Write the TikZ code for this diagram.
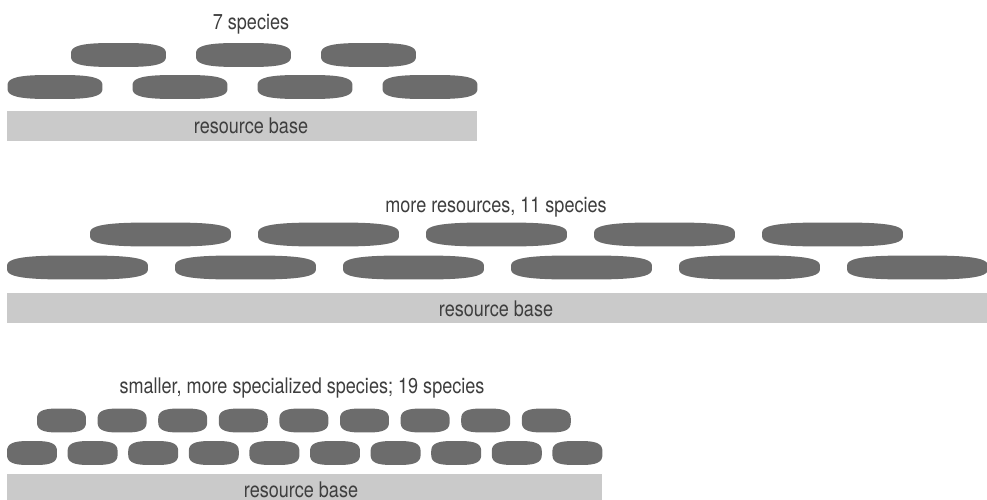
\documentclass[tikz,border=0pt]{standalone}
\usepackage{fontspec}
\setmainfont{TeX Gyre Heros}[FakeStretch=0.84]
\usetikzlibrary{positioning}
\definecolor{discgray}{RGB}{108,108,108}
\definecolor{basegray}{RGB}{202,202,202}
\definecolor{labgray}{RGB}{62,62,62}

\begin{document}
\begin{tikzpicture}[x=1pt, y=-1pt,
      disc/.style={inner sep=0pt, minimum height=24pt, minimum width=#1,
          path picture={\fill[discgray, shift={(path picture bounding box.center)}]
              plot[domain=2.5:362.5, samples=73, variable=\t]
              ({0.5*#1*sign(cos(\t))*abs(cos(\t))^0.625},
               {12*sign(sin(\t))*abs(sin(\t))^0.625}) -- cycle;}},
      resbar/.style={fill=basegray, inner sep=0pt, minimum width=#1},
      lab/.style={font=\fontsize{21.5}{24}\selectfont, text=labgray,
          anchor=base, inner sep=0pt},
    ]
    \useasboundingbox (0,0) rectangle (987,500);

    % ---- Panel 1: 7 species ----
    \node[lab] (T1) at (251, 30) {7 species};
    \foreach \i in {0,...,2}{
        \node[disc=95pt] (Au\i) at ({118.5+125*\i}, 55) {};
      }
    \foreach \i in {0,...,3}{
        \node[disc=95pt] (Al\i) at ({55+125*\i}, 87) {};
      }
    \node[resbar=470pt, minimum height=30pt] (R1) at (242, 126) {};
    \node[lab] (B1) at (251, 134) {resource base};

    % ---- Panel 2: more resources, 11 species ----
    \node[lab] (T2) at (496, 212) {more resources, 11 species};
    \foreach \i in {0,...,4}{
        \node[disc=141pt] (Bu\i) at ({160.5+168*\i}, 234.5) {};
      }
    \foreach \i in {0,...,5}{
        \node[disc=141pt] (Bl\i) at ({77.5+168*\i}, 267.5) {};
      }
    \node[resbar=980pt, minimum height=30pt] (R2) at (497, 308) {};
    \node[lab] (B2) at (496, 316) {resource base};

    % ---- Panel 3: smaller, more specialized species; 19 species ----
    \node[lab] (T3) at (302, 393) {smaller, more specialized species; 19 species};
    \foreach \i in {0,...,8}{
        \node[disc=49pt] (Cu\i) at ({61.5+60.6*\i}, 420.5) {};
      }
    \foreach \i in {0,...,9}{
        \node[disc=50pt] (Cl\i) at ({32+60.6*\i}, 453) {};
      }
    \node[resbar=595pt, minimum height=26pt] (R3) at (304.5, 487) {};
    \node[lab] (B3) at (301, 497) {resource base};

  \end{tikzpicture}
\end{document}
